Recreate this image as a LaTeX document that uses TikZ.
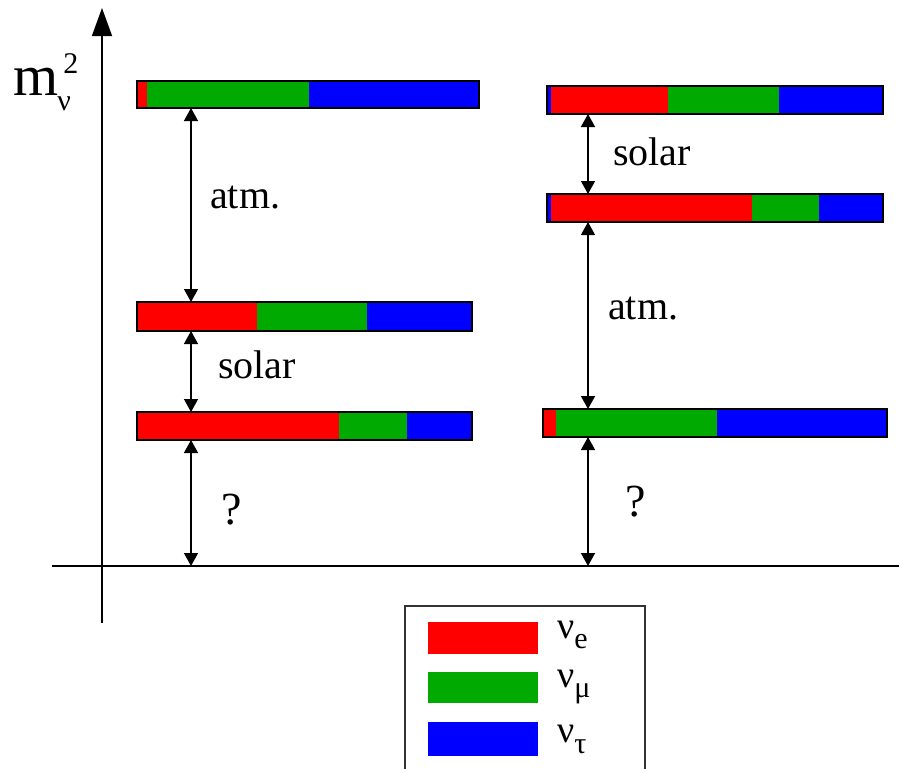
\documentclass[tikz,border=0pt]{standalone}
\usepackage{fontspec}
\setmainfont{Liberation Serif}
\usetikzlibrary{arrows.meta}
\definecolor{cr}{RGB}{255,0,0}
\definecolor{cg}{RGB}{0,170,0}
\definecolor{cb}{RGB}{0,0,255}
\begin{document}
\begin{tikzpicture}[x=1pt,y=-1pt,
  barframe/.style={draw=black,line width=1.6pt,inner sep=0pt,outer sep=0pt},
  dbl/.style={line width=1.4pt,{Triangle[width=14pt,length=13pt]}-{Triangle[width=14pt,length=13pt]}},
  lbl/.style={anchor=base west,inner sep=0pt,font=\fontsize{40}{40}\selectfont},
  qlbl/.style={anchor=base west,inner sep=0pt,font=\fontsize{46}{46}\selectfont},
  leglbl/.style={anchor=base west,inner sep=0pt,font=\fontsize{38}{38}\selectfont},
  axisline/.style={line width=1.5pt,draw=black}]
\useasboundingbox (0,0) rectangle (899,769);

% axes
\coordinate (vb) at (102,623);
\coordinate (vt) at (102,8);
\coordinate (h0) at (52,566);
\coordinate (h1) at (899,566);
\draw[axisline,-{Triangle[width=20pt,length=28pt]}] (vb) -- (vt);
\draw[axisline] (h0) -- (h1);

% y label
\node[anchor=base west,inner sep=0pt,font=\fontsize{58}{58}\selectfont] (ylab) at (13,95)
  {m\kern-1pt\rlap{\raisebox{-15pt}{\fontsize{30}{30}\selectfont ν}}\kern6pt\raisebox{22pt}{\fontsize{30}{30}\selectfont 2}};

% left bars
\fill[cr] (137,81) rectangle (147,108);
\fill[cg] (147,81) rectangle (309,108);
\fill[cb] (309,81) rectangle (479,108);
\node[barframe,minimum width=342pt,minimum height=27pt] (L1) at (308,94.5) {};

\fill[cr] (137,302) rectangle (257,331);
\fill[cg] (257,302) rectangle (367,331);
\fill[cb] (367,302) rectangle (472,331);
\node[barframe,minimum width=335pt,minimum height=29pt] (L2) at (304.5,316.5) {};

\fill[cr] (137,412) rectangle (339,440);
\fill[cg] (339,412) rectangle (407,440);
\fill[cb] (407,412) rectangle (472,440);
\node[barframe,minimum width=335pt,minimum height=28pt] (L3) at (304.5,426) {};

% right bars
\fill[cb] (547,86) rectangle (551,114);
\fill[cr] (551,86) rectangle (668,114);
\fill[cg] (668,86) rectangle (779,114);
\fill[cb] (779,86) rectangle (883,114);
\node[barframe,minimum width=336pt,minimum height=28pt] (R1) at (715,100) {};

\fill[cb] (547,194) rectangle (551,222);
\fill[cr] (551,194) rectangle (752,222);
\fill[cg] (752,194) rectangle (819,222);
\fill[cb] (819,194) rectangle (883,222);
\node[barframe,minimum width=336pt,minimum height=28pt] (R2) at (715,208) {};

\fill[cr] (543,409) rectangle (556,437);
\fill[cg] (556,409) rectangle (717,437);
\fill[cb] (717,409) rectangle (887,437);
\node[barframe,minimum width=344pt,minimum height=28pt] (R3) at (715,423) {};

% arrows
\coordinate (xl) at (191,0);
\coordinate (xr) at (588,0);
\draw[dbl] (L1.south -| xl) -- (L2.north -| xl);
\draw[dbl] (L2.south -| xl) -- (L3.north -| xl);
\draw[dbl] (L3.south -| xl) -- (h0 -| xl);
\draw[dbl] (R1.south -| xr) -- (R2.north -| xr);
\draw[dbl] (R2.south -| xr) -- (R3.north -| xr);
\draw[dbl] (R3.south -| xr) -- (h0 -| xr);

% labels
\node[lbl] (atmL) at (210,208) {atm.};
\node[lbl] (solL) at (218,378) {solar};
\node[qlbl] (qL) at (221,524) {?};
\node[lbl] (solR) at (613,165) {solar};
\node[lbl] (atmR) at (608,319) {atm.};
\node[qlbl] (qR) at (625,516) {?};

% legend
\draw[line width=1.5pt,draw=black!80] (405,769) -- (405,606) -- (645,606) -- (645,769);
\fill[cr] (428,622) rectangle (538,654);
\fill[cg] (428,672) rectangle (538,703);
\fill[cb] (428,722) rectangle (538,756);
\node[leglbl] (le) at (557,638) {ν\raisebox{-10pt}{\fontsize{30}{30}\selectfont e}};
\node[leglbl] (lm) at (557,687) {ν\raisebox{-10pt}{\fontsize{30}{30}\selectfont μ}};
\node[leglbl] (lt) at (557,742) {ν\raisebox{-11pt}{\fontsize{30}{30}\selectfont τ}};
\end{tikzpicture}
\end{document}
